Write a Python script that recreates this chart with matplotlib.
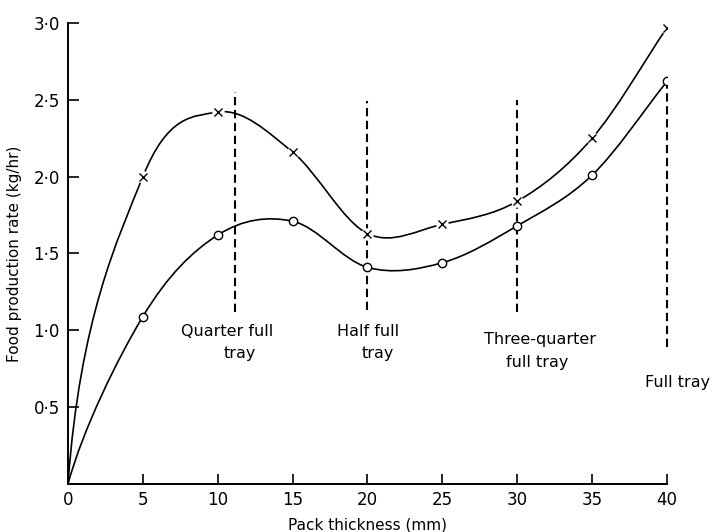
import numpy as np
import matplotlib.pyplot as plt
from matplotlib.path import Path
from matplotlib.patches import PathPatch

# Pack thickness (mm) and measured production rates (kg/hr)
thickness = [0, 5, 10, 15, 20, 25, 30, 35, 40]
rate_x = [0, 2.00, 2.42, 2.16, 1.63, 1.69, 1.84, 2.25, 2.97]
rate_o = [0, 1.09, 1.62, 1.71, 1.41, 1.44, 1.68, 2.01, 2.62]

# Tray fill levels marked on the plot
tray_x = [11.15, 20, 30, 40]
tray_top = [2.55, 2.49, 2.50, 2.62]
tray_bottom = [1.12, 1.13, 1.12, 0.89]

yticks = [0.5, 1.0, 1.5, 2.0, 2.5, 3.0]
ytick_labels = ['0·5', '1·0', '1·5', '2·0', '2·5', '3·0']
xticks = [0, 5, 10, 15, 20, 25, 30, 35, 40]


def smooth_path(xs, ys, start_ctrl):
    # Catmull-Rom style bezier through the points; first control point given
    p = np.column_stack([xs, ys]).astype(float)
    n = len(p)
    t = np.zeros_like(p)
    for i in range(1, n - 1):
        t[i] = (p[i + 1] - p[i - 1]) / 2
    t[-1] = p[-1] - p[-2]
    verts = [p[0]]
    codes = [Path.MOVETO]
    for i in range(n - 1):
        c1 = p[0] + np.array(start_ctrl) if i == 0 else p[i] + t[i] / 3
        c2 = p[i + 1] - t[i + 1] / 3
        verts += [c1, c2, p[i + 1]]
        codes += [Path.CURVE4] * 3
    return Path(verts, codes)


plt.rcParams['font.family'] = ['DejaVu Sans']

fig = plt.figure(figsize=(7.12, 5.32), dpi=100)
ax = fig.add_axes([0.0955, 0.0902, 0.8413, 0.8666])

ax.add_patch(PathPatch(smooth_path(thickness, rate_x, (0.8, 1.08)),
                       fill=False, lw=1.2, color='black', zorder=2))
ax.add_patch(PathPatch(smooth_path(thickness, rate_o, (1.0, 0.36)),
                       fill=False, lw=1.2, color='black', zorder=2))

# white halo behind the markers leaves the small breaks in the curve
ax.plot(thickness[1:], rate_x[1:], 'o', ms=9, mfc='white', mec='none', zorder=3)
ax.plot(thickness[1:], rate_x[1:], 'x', ms=5.5, mew=1.0, color='black', zorder=4)
ax.plot(thickness[1:], rate_o[1:], 'o', ms=6, mfc='white', mec='black',
        mew=1.0, zorder=4)

for xv, top, bot in zip(tray_x, tray_top, tray_bottom):
    ax.plot([xv, xv], [bot, top], color='black', lw=1.5,
            ls=(0, (4, 2.2)), zorder=1, clip_on=False)

txt = dict(fontsize=11.5, ha='center', va='center', clip_on=False)
ax.text(10.62, 0.99, 'Quarter full', **txt)
ax.text(11.48, 0.85, 'tray', **txt)
ax.text(20.03, 0.99, 'Half full', **txt)
ax.text(20.70, 0.85, 'tray', **txt)
ax.text(31.52, 0.94, 'Three-quarter', **txt)
ax.text(31.32, 0.79, 'full tray', **txt)
ax.text(40.73, 0.66, 'Full tray', **txt)

ax.set_xlim(0, 40)
ax.set_ylim(0, 3.0)
ax.set_xticks(xticks)
ax.set_xticklabels([str(v) for v in xticks])
ax.set_yticks(yticks)
ax.set_yticklabels(ytick_labels)

ax.spines['top'].set_visible(False)
ax.spines['right'].set_visible(False)
for s in ('left', 'bottom'):
    ax.spines[s].set_linewidth(1.4)
ax.tick_params(axis='both', direction='in', labelsize=12, width=1.2)
ax.tick_params(axis='y', length=8, pad=6)
ax.tick_params(axis='x', length=7, pad=5)

ax.set_xlabel('Pack thickness (mm)', fontsize=11, labelpad=6)
ax.set_ylabel('Food production rate (kg/hr)', fontsize=11, labelpad=8)

fig.savefig('out.png', dpi=100)
